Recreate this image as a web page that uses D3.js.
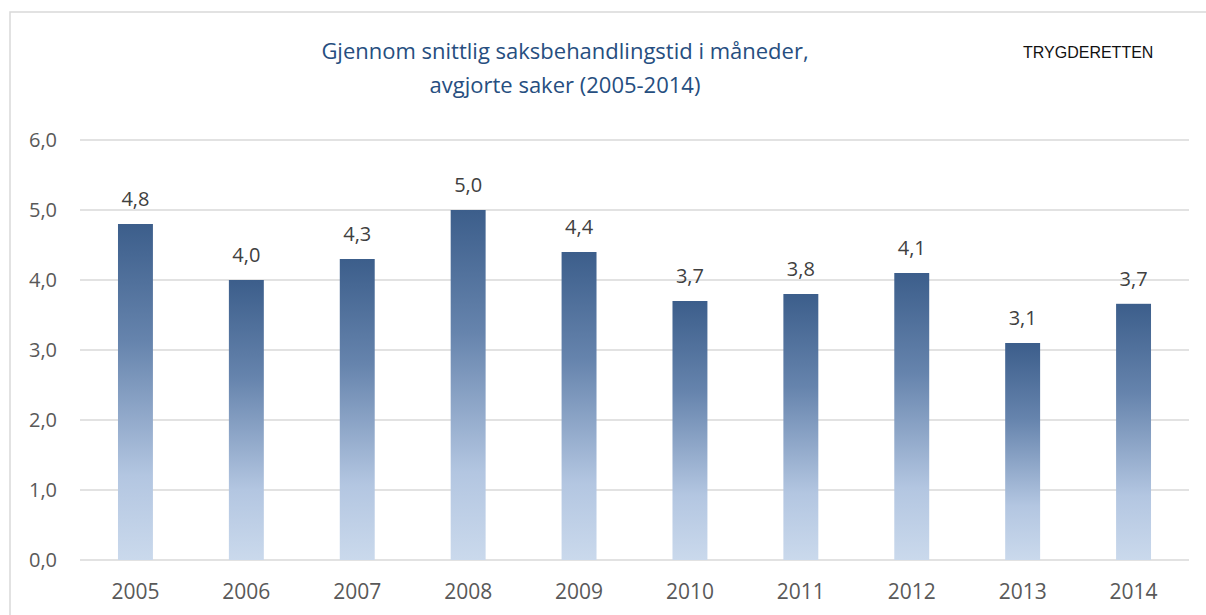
<!DOCTYPE html>
<html>
<head>
<meta charset="utf-8">
<script src="https://cdn.jsdelivr.net/npm/d3@7/dist/d3.min.js"></script>
<style>
    html, body { margin: 0; padding: 0; background: #ffffff; }
    svg { display: block; }
</style>
</head>
<body>
<div id="chart"></div>
<script>
var years = ["2005", "2006", "2007", "2008", "2009", "2010", "2011", "2012", "2013", "2014"];
var months = [4.8, 4.0, 4.3, 5.0, 4.4, 3.7, 3.8, 4.1, 3.1, 3.66];
var yTicks = [0, 1, 2, 3, 4, 5, 6];
var titleLines = ["Gjennom snittlig saksbehandlingstid i måneder,", "avgjorte saker (2005-2014)"];
var corner = "TRYGDERETTEN";

(function () {
    var width = 1206,
        height = 615;
    var margin = { left: 80, right: 17, top: 140, bottom: 55 };
    var font = "Open Sans, Noto Sans, sans-serif";
    var fmt = function (v) {
        return d3.format(".1f")(v).replace(".", ",");
    };

    var svg = d3.select("#chart")
        .append("svg")
        .attr("width", width)
        .attr("height", height);

    // bar fill, dark on top fading to light blue
    var grad = svg.append("defs")
        .append("linearGradient")
        .attr("id", "barGrad")
        .attr("x1", 0).attr("y1", 0)
        .attr("x2", 0).attr("y2", 1);
    grad.append("stop").attr("offset", "0%").attr("stop-color", "#3c5e8b");
    grad.append("stop").attr("offset", "35%").attr("stop-color", "#6684ad");
    grad.append("stop").attr("offset", "75%").attr("stop-color", "#b3c6e1");
    grad.append("stop").attr("offset", "100%").attr("stop-color", "#cad9ec");

    // chart frame
    svg.append("rect")
        .attr("x", 10)
        .attr("y", 12)
        .attr("width", width + 20)
        .attr("height", height + 20)
        .attr("fill", "none")
        .attr("stroke", "#d9d9d9")
        .attr("stroke-width", 1.5);

    var x = d3.scaleBand()
        .domain(years)
        .range([margin.left, width - margin.right])
        .paddingInner(0.685)
        .paddingOuter(0.3425);

    var y = d3.scaleLinear()
        .domain([0, 6])
        .range([height - margin.bottom, margin.top]);

    // gridlines
    svg.append("g")
        .selectAll("line")
        .data(yTicks)
        .enter()
        .append("line")
        .attr("x1", margin.left)
        .attr("x2", width - margin.right)
        .attr("y1", function (d) { return y(d); })
        .attr("y2", function (d) { return y(d); })
        .attr("stroke", "#d9d9d9")
        .attr("stroke-width", 1.5);

    // y axis labels
    var yAxis = d3.axisLeft(y)
        .tickValues(yTicks)
        .tickSize(0)
        .tickPadding(23)
        .tickFormat(fmt);
    var gy = svg.append("g")
        .attr("transform", "translate(" + margin.left + ",0)")
        .call(yAxis);
    gy.select(".domain").remove();
    gy.selectAll("text")
        .attr("font-family", font)
        .attr("font-size", "20px")
        .attr("fill", "#595959");

    // x axis labels
    var xAxis = d3.axisBottom(x)
        .tickSize(0)
        .tickPadding(24);
    var gx = svg.append("g")
        .attr("transform", "translate(0," + (height - margin.bottom) + ")")
        .call(xAxis);
    gx.select(".domain").remove();
    gx.selectAll("text")
        .attr("font-family", font)
        .attr("font-size", "21px")
        .attr("fill", "#595959");

    // bars
    svg.append("g")
        .selectAll("rect")
        .data(months)
        .enter()
        .append("rect")
        .attr("x", function (d, i) { return x(years[i]); })
        .attr("y", function (d) { return y(d); })
        .attr("width", x.bandwidth())
        .attr("height", function (d) { return y(0) - y(d); })
        .attr("fill", "url(#barGrad)");

    // value labels
    svg.append("g")
        .selectAll("text")
        .data(months)
        .enter()
        .append("text")
        .attr("x", function (d, i) { return x(years[i]) + x.bandwidth() / 2; })
        .attr("y", function (d) { return y(d) - 18; })
        .attr("text-anchor", "middle")
        .attr("font-family", font)
        .attr("font-size", "20px")
        .attr("fill", "#404040")
        .text(fmt);

    // title
    svg.append("g")
        .selectAll("text")
        .data(titleLines)
        .enter()
        .append("text")
        .attr("x", 565)
        .attr("y", function (d, i) { return 59 + i * 34; })
        .attr("text-anchor", "middle")
        .attr("font-family", font)
        .attr("font-size", "22px")
        .attr("fill", "#264e80")
        .text(function (d) { return d; });

    svg.append("text")
        .attr("x", 1023)
        .attr("y", 58)
        .attr("font-family", "Liberation Sans, Arial, sans-serif")
        .attr("font-size", "16px")
        .attr("fill", "#111111")
        .text(corner);
}());
</script>
</body>
</html>
